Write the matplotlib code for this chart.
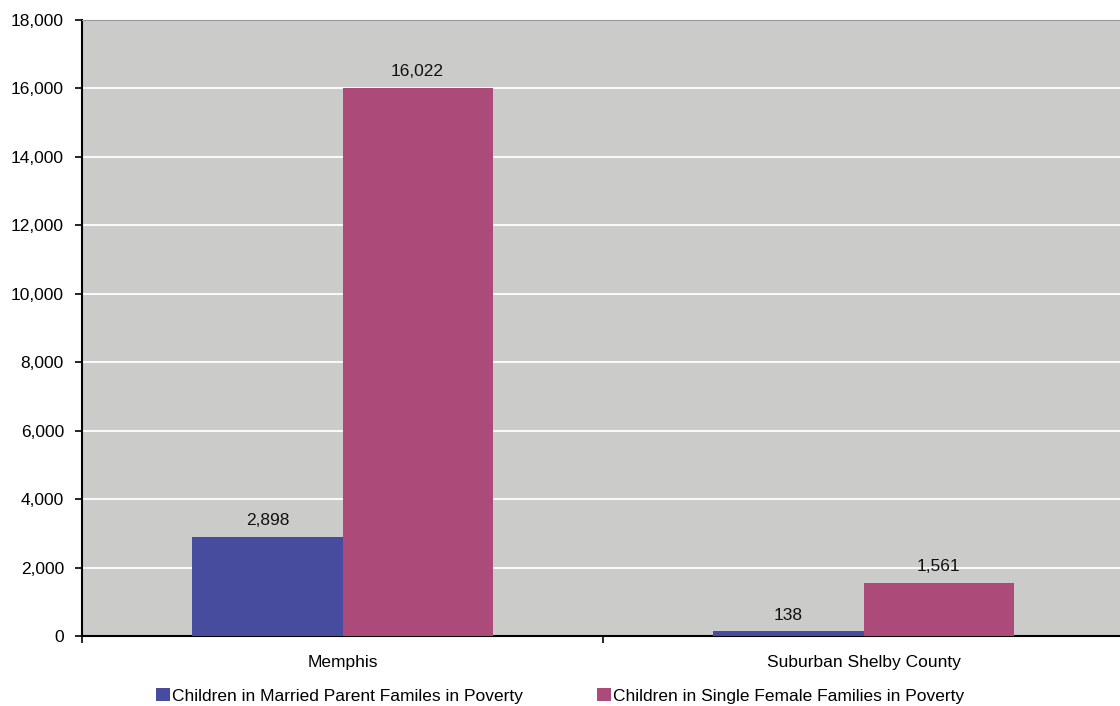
import numpy as np
import matplotlib.pyplot as plt
from matplotlib.ticker import FuncFormatter

plt.rcParams['font.family'] = ['Liberation Sans', 'DejaVu Sans']

places = ['Memphis', 'Suburban Shelby County']
married = [2898, 138]
single_female = [16022, 1561]
series_names = ['Children in Married Parent Familes in Poverty',
                'Children in Single Female Families in Poverty']

fig = plt.figure(figsize=(11.2, 7.06), dpi=100)
ax = fig.add_axes([82/1120, 1 - 636/706, (1124 - 82)/1120, (636 - 20)/706])
ax.set_facecolor('#cbcbc9')

x = np.arange(len(places))
w = 0.288
b1 = ax.bar(x - w/2, married, w, color='#474c9f', label=series_names[0], zorder=3)
b2 = ax.bar(x + w/2, single_female, w, color='#ac4a7a', label=series_names[1], zorder=3)

# value labels above each bar
for bars, vals in ((b1, married), (b2, single_female)):
    for rect, v in zip(bars, vals):
        ax.annotate(f'{v:,}', (rect.get_x() + rect.get_width()/2, v),
                    xytext=(0, 6), textcoords='offset points',
                    ha='center', va='bottom', fontsize=12.5, color='#111111')

ax.set_ylim(0, 18000)
ax.set_yticks(np.arange(0, 18001, 2000))
ax.yaxis.set_major_formatter(FuncFormatter(lambda v, p: f'{int(v):,}'))
ax.grid(axis='y', color='white', linewidth=1.3, zorder=1)
ax.set_axisbelow(True)

ax.set_xlim(-0.5, 1.5)
ax.set_xticks(x)
ax.set_xticklabels(places)
ax.set_xticks([-0.5, 0.5, 1.5], minor=True)
ax.tick_params(axis='x', which='major', length=0, pad=14, labelsize=12.5)
ax.tick_params(axis='x', which='minor', length=5, width=1.2, color='black')
ax.tick_params(axis='y', length=5, width=1.2, labelsize=12.5, pad=8)

for s in ('left', 'bottom'):
    ax.spines[s].set_linewidth(1.5)
    ax.spines[s].set_color('black')
ax.spines['top'].set_color('#9a9a9a')
ax.spines['top'].set_linewidth(0.8)
ax.spines['right'].set_visible(False)

fig.legend(handles=[b1, b2], loc='center', bbox_to_anchor=(0.5, 1 - 696/706),
           ncol=2, frameon=False, fontsize=12.5, handlelength=0.8, handleheight=0.8,
           handletextpad=0.1, columnspacing=4.3)

fig.savefig('out.png', dpi=100)
